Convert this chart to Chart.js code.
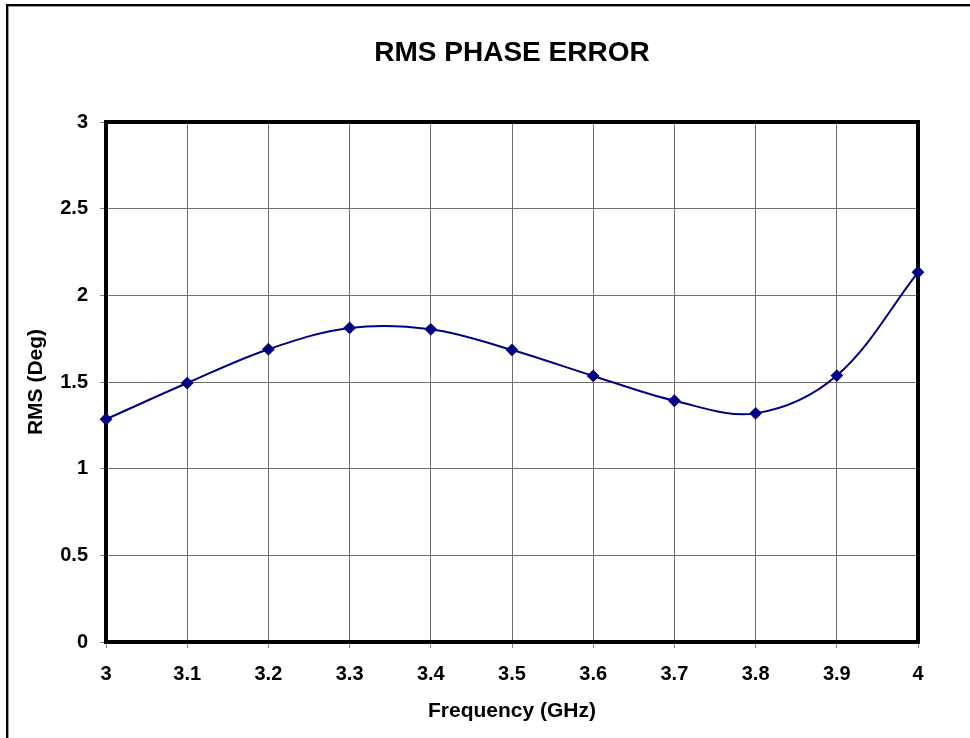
<!DOCTYPE html>
<html>
<head>
<meta charset="utf-8">
<script src="https://cdn.jsdelivr.net/npm/chart.js@4/dist/chart.umd.min.js"></script>
<style>
  html, body { margin: 0; padding: 0; background: #fff; }
  #c { display: block; }
</style>
</head>
<body>
<canvas id="c" width="970" height="738"></canvas>
<script>
// Data
const frequencies = ['3', '3.1', '3.2', '3.3', '3.4', '3.5', '3.6', '3.7', '3.8', '3.9', '4'];
const rmsDeg = [1.285, 1.494, 1.689, 1.812, 1.804, 1.685, 1.535, 1.392, 1.319, 1.537, 2.133];
const yTickLabels = ['0', '0.5', '1', '1.5', '2', '2.5', '3'];

const FONT = "'Liberation Sans', Arial, sans-serif";

const framePlugin = {
  id: 'frame',
  beforeDraw(chart) {
    const ctx = chart.ctx;
    ctx.save();
    ctx.fillStyle = '#fff';
    ctx.fillRect(0, 0, chart.width, chart.height);
    ctx.strokeStyle = '#000';
    ctx.lineWidth = 2;
    ctx.strokeRect(7, 5, 1000, 1000);
    ctx.strokeStyle = '#999';
    ctx.lineWidth = 1;
    ctx.strokeRect(8.5, 6.5, 1000, 1000);
    ctx.restore();
  },
  beforeDatasetsDraw(chart) {
    const a = chart.chartArea;
    const ctx = chart.ctx;
    ctx.save();
    ctx.strokeStyle = '#000';
    ctx.lineWidth = 4;
    ctx.strokeRect(a.left, a.top, a.right - a.left, a.bottom - a.top);
    ctx.restore();
  }
};

new Chart(document.getElementById('c'), {
  type: 'line',
  data: {
    labels: frequencies,
    datasets: [{
      data: rmsDeg,
      borderColor: '#000080',
      backgroundColor: '#000080',
      borderWidth: 2,
      tension: 0.35,
      pointStyle: 'rectRot',
      pointRadius: 5,
      pointBackgroundColor: '#000080',
      pointBorderColor: '#000080',
      clip: false
    }]
  },
  options: {
    responsive: false,
    animation: false,
    events: [],
    layout: { padding: { left: 10, right: 52, top: 0, bottom: 0 } },
    plugins: {
      legend: { display: false },
      tooltip: { enabled: false },
      title: {
        display: true,
        fullSize: false,
        text: 'RMS PHASE ERROR',
        color: '#000',
        font: { family: FONT, size: 28, weight: 'bold', lineHeight: 1.2 },
        padding: { top: 36.7, bottom: 51.7 }
      }
    },
    scales: {
      x: {
        type: 'category',
        offset: false,
        afterFit(scale) { scale.height = 96; },
        border: { display: false },
        grid: {
          color: '#707070',
          lineWidth: 1,
          borderDash: [1, 1],
          drawTicks: true,
          tickLength: 6,
          tickColor: '#808080',
          tickBorderDash: []
        },
        ticks: {
          color: '#000',
          font: { family: FONT, size: 20, weight: 'bold', lineHeight: 1.2 },
          padding: 14.5,
          maxRotation: 0,
          autoSkip: false
        },
        title: {
          display: true,
          text: 'Frequency (GHz)',
          color: '#000',
          font: { family: FONT, size: 21, weight: 'bold', lineHeight: 1.2 },
          padding: { top: 0, bottom: 13.9 }
        }
      },
      y: {
        min: 0,
        max: 3,
        afterFit(scale) { scale.width = 96; },
        border: { display: false },
        grid: {
          color: '#707070',
          lineWidth: 1,
          borderDash: [1, 1],
          drawTicks: true,
          tickLength: 6,
          tickColor: '#808080',
          tickBorderDash: []
        },
        ticks: {
          stepSize: 0.5,
          color: '#000',
          font: { family: FONT, size: 20, weight: 'bold', lineHeight: 1.2 },
          padding: 12,
          callback: (v, i) => yTickLabels[i]
        },
        title: {
          display: true,
          text: 'RMS (Deg)',
          color: '#000',
          font: { family: FONT, size: 21, weight: 'bold', lineHeight: 1.2 },
          padding: { top: 13.4, bottom: 0 }
        }
      }
    }
  },
  plugins: [framePlugin]
});
</script>
</body>
</html>
